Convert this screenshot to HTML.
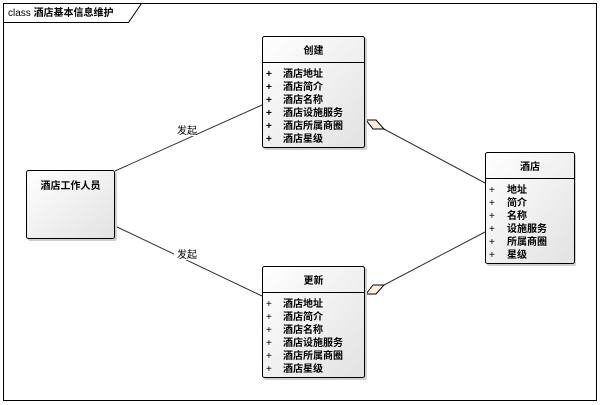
<!DOCTYPE html>
<html><head><meta charset="utf-8"><style>
html,body{margin:0;padding:0;background:#fff;}
svg{display:block;}
text{font-family:"Liberation Sans","Noto Sans CJK SC",sans-serif;font-size:10px;fill:#000;}
.b{font-weight:bold;}
</style></head><body>
<svg width="601" height="405" viewBox="0 0 601 405" xmlns="http://www.w3.org/2000/svg">
<defs>
<linearGradient id="g" x1="0" y1="0" x2="1" y2="1">
<stop offset="0" stop-color="#ffffff"/><stop offset="1" stop-color="#e2e2e2"/>
</linearGradient>
</defs>
<rect x="3.5" y="3.5" width="593" height="397" fill="#fff" stroke="#000"/>
<path d="M3.5 22.5 H128.5 L141.5 3.5" fill="none" stroke="#000"/>
<text x="8" y="16">class <tspan class="b">酒店基本信息维护</tspan></text>

<!-- lines -->
<g stroke="#333" stroke-width="1" fill="none">
<line x1="115" y1="171" x2="262" y2="105"/>
<line x1="115" y1="226" x2="262" y2="296"/>
<line x1="384" y1="129" x2="485" y2="183"/>
<line x1="384" y1="285" x2="485" y2="232"/>
</g>
<polygon points="366,120 376,120 384,129 373,129" fill="#fbeedd" stroke="#000"/>
<polygon points="366,294 373,285 384,285 376,294" fill="#fbeedd" stroke="#000"/>
<rect x="174" y="124" width="22" height="12" fill="#fff"/>
<text x="177" y="134">发起</text>
<rect x="174" y="248" width="22" height="12" fill="#fff"/>
<text x="177" y="258">发起</text>

<!-- shadows -->
<g fill="#d0d0d0">
<rect x="28" y="172" width="89" height="69" rx="2"/>
<rect x="264" y="38" width="103" height="112" rx="2"/>
<rect x="264" y="268" width="103" height="112" rx="2"/>
<rect x="487" y="154" width="89" height="112" rx="2"/>
</g>

<!-- staff -->
<rect x="26.5" y="170.5" width="88" height="68" rx="2" fill="url(#g)" stroke="#000"/>
<text x="70.5" y="189" class="b" text-anchor="middle">酒店工作人员</text>

<!-- 创建 -->
<rect x="262.5" y="36.5" width="102" height="111" rx="2" fill="url(#g)" stroke="#000"/>
<line x1="262.5" y1="62.5" x2="364.5" y2="62.5" stroke="#000"/>
<text x="313.5" y="54" class="b" text-anchor="middle">创建</text>
<g class="b">
<text x="266" y="77">+</text><text x="283" y="77" class="b">酒店地址</text>
<text x="266" y="90">+</text><text x="283" y="90" class="b">酒店简介</text>
<text x="266" y="103">+</text><text x="283" y="103" class="b">酒店名称</text>
<text x="266" y="116">+</text><text x="283" y="116" class="b">酒店设施服务</text>
<text x="266" y="129">+</text><text x="283" y="129" class="b">酒店所属商圈</text>
<text x="266" y="142">+</text><text x="283" y="142" class="b">酒店星级</text>
</g>

<!-- 更新 -->
<rect x="262.5" y="266.5" width="102" height="111" rx="2" fill="url(#g)" stroke="#000"/>
<line x1="262.5" y1="292.5" x2="364.5" y2="292.5" stroke="#000"/>
<text x="313.5" y="284" class="b" text-anchor="middle">更新</text>
<text x="266" y="307">+</text><text x="283" y="307" class="b">酒店地址</text>
<text x="266" y="320">+</text><text x="283" y="320" class="b">酒店简介</text>
<text x="266" y="333">+</text><text x="283" y="333" class="b">酒店名称</text>
<text x="266" y="346">+</text><text x="283" y="346" class="b">酒店设施服务</text>
<text x="266" y="359">+</text><text x="283" y="359" class="b">酒店所属商圈</text>
<text x="266" y="372">+</text><text x="283" y="372" class="b">酒店星级</text>

<!-- 酒店 -->
<rect x="485.5" y="152.5" width="89" height="111" rx="2" fill="url(#g)" stroke="#000"/>
<line x1="485.5" y1="178.5" x2="574.5" y2="178.5" stroke="#000"/>
<text x="530" y="170" class="b" text-anchor="middle">酒店</text>
<text x="489" y="193">+</text><text x="507" y="193" class="b">地址</text>
<text x="489" y="206">+</text><text x="507" y="206" class="b">简介</text>
<text x="489" y="219">+</text><text x="507" y="219" class="b">名称</text>
<text x="489" y="232">+</text><text x="507" y="232" class="b">设施服务</text>
<text x="489" y="245">+</text><text x="507" y="245" class="b">所属商圈</text>
<text x="489" y="258">+</text><text x="507" y="258" class="b">星级</text>
</svg>
</body></html>
